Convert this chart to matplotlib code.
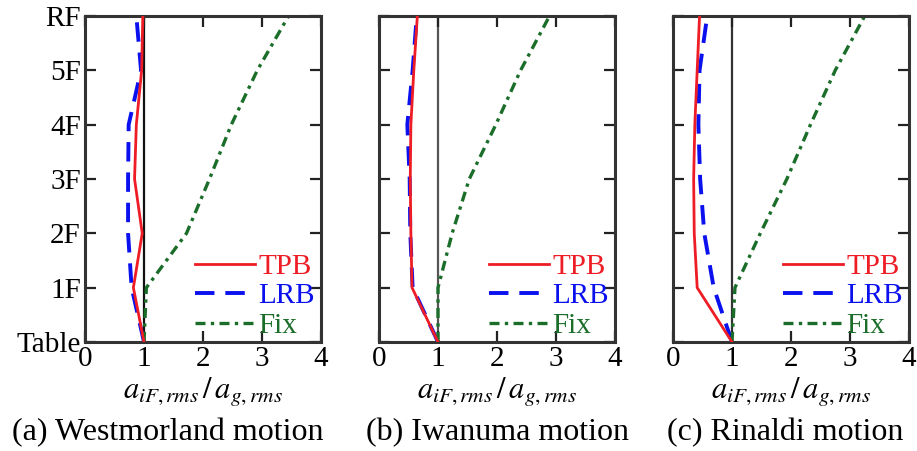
import matplotlib
matplotlib.use("Agg")
import matplotlib.pyplot as plt

plt.rcParams['font.family'] = ['Liberation Serif', 'DejaVu Serif']
plt.rcParams['mathtext.fontset'] = 'stix'

floors = ['Table', '1F', '2F', '3F', '4F', '5F', 'RF']
x_ticks = [0, 1, 2, 3, 4]

west_tpb = [1.0, 0.82, 0.97, 0.84, 0.87, 0.96, 0.98]
west_lrb = [1.0, 0.79, 0.73, 0.73, 0.74, 0.95, 0.87]
west_fix = [1.0, 1.04, 1.72, 2.11, 2.48, 2.92, 3.45]

iwa_tpb = [1.0, 0.56, 0.54, 0.53, 0.54, 0.59, 0.65]
iwa_lrb = [1.0, 0.57, 0.53, 0.52, 0.48, 0.57, 0.64]
iwa_fix = [1.0, 1.0, 1.24, 1.53, 1.98, 2.40, 2.89]

rin_tpb = [1.0, 0.41, 0.36, 0.35, 0.37, 0.41, 0.45]
rin_lrb = [1.0, 0.69, 0.53, 0.46, 0.43, 0.45, 0.58]
rin_fix = [1.0, 1.05, 1.48, 1.93, 2.33, 2.75, 3.25]

captions = ['(a) Westmorland motion', '(b) Iwanuma motion', '(c) Rinaldi motion']
series_labels = ['TPB', 'LRB', 'Fix']

RED = '#ee1c25'
BLUE = '#0a10ee'
GREEN = '#1b6e2a'

W, H = 917, 451
fig = plt.figure(figsize=(W / 100, H / 100), dpi=100)

lefts = [85, 379, 673]
caption_cx = [168, 497, 785]
ax_w, ax_bottom, ax_top = 236, 342, 16
data = [(west_tpb, west_lrb, west_fix), (iwa_tpb, iwa_lrb, iwa_fix), (rin_tpb, rin_lrb, rin_fix)]
vline_cols = ['#111111', '#555555', '#333333']

ypos = list(range(len(floors)))
for i, (left, (tpb, lrb, fix)) in enumerate(zip(lefts, data)):
    ax = fig.add_axes([left / W, (H - ax_bottom) / H, ax_w / W, (ax_bottom - ax_top) / H])
    ax.axvline(1.0, color=vline_cols[i], lw=1.6, zorder=1)
    ax.plot(tpb, ypos, color=RED, lw=2.0, label=series_labels[0], zorder=3)
    ax.plot(lrb, ypos, color=BLUE, lw=2.8, dashes=(5, 2.8), label=series_labels[1], zorder=2)
    ax.plot(fix, ypos, color=GREEN, lw=2.4, dashes=(3, 1.6, 1, 1.6), label=series_labels[2], zorder=2)
    ax.set_xlim(0, 4)
    ax.set_ylim(0, 6)
    ax.set_xticks(x_ticks)
    ax.set_yticks(ypos)
    if i == 0:
        ax.set_yticklabels(floors)
    else:
        ax.set_yticklabels([])
    ax.tick_params(direction='in', length=8, width=1.6, top=True, right=True,
                   labelsize=21, pad=3, color='#222222')
    for s in ax.spines.values():
        s.set_linewidth(2.2)
        s.set_color('#333333')
    ax.legend(loc='lower right', bbox_to_anchor=(0.975, 0.01), frameon=False,
              fontsize=21, handlelength=2.05, handletextpad=0.12, labelspacing=0.1,
              borderpad=0.0, borderaxespad=0.0, labelcolor='linecolor')
    cx = (left + ax_w / 2) / W
    fig.text(cx, (H - 392) / H, r'$a_{iF,rms}\,/\,a_{g,rms}$', fontsize=22,
             ha='center', va='center')
    fig.text(caption_cx[i] / W, (H - 433) / H, captions[i], fontsize=23,
             ha='center', va='center')

fig.savefig('out.png', dpi=100)
